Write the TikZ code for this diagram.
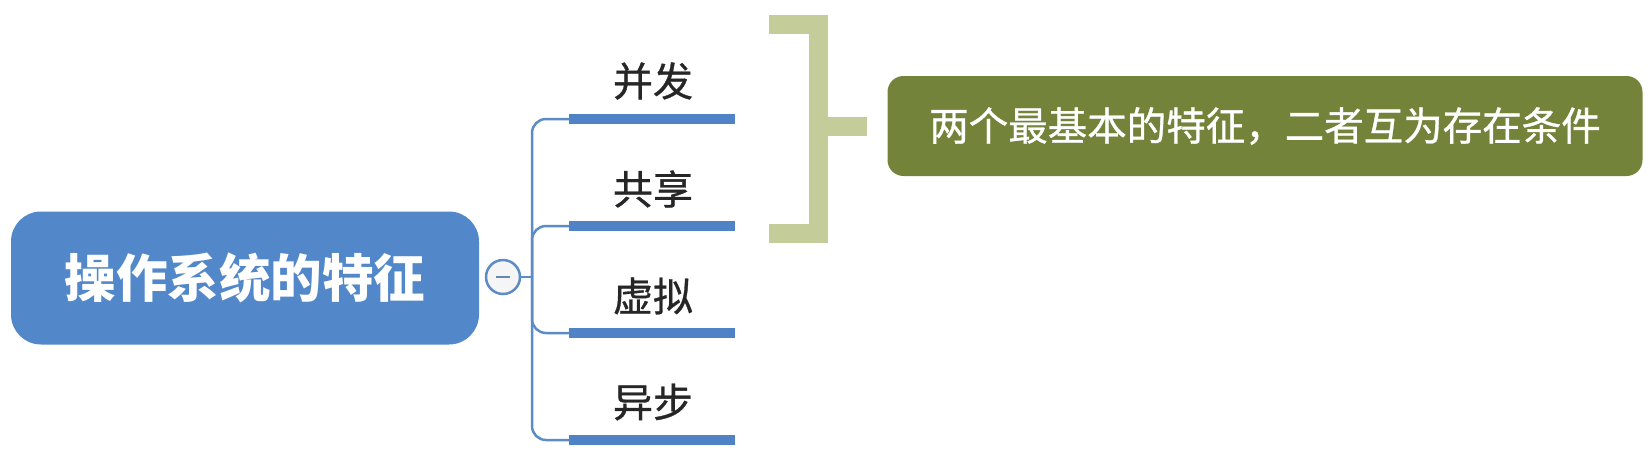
\documentclass[tikz,border=0pt]{standalone}
\usepackage{fontspec}
\setmainfont{Noto Sans CJK SC}
\newfontfamily\cjk{Noto Sans CJK SC}
\newfontfamily\cjkmed[FakeBold=0.8]{Noto Sans CJK SC}
\definecolor{rootblue}{HTML}{5288CA}
\definecolor{lineblue}{HTML}{5B8CC8}
\definecolor{ulblue}{HTML}{4F83C6}
\definecolor{olive}{HTML}{74833A}
\definecolor{brk}{HTML}{C4CD99}
\tikzset{
  rootbox/.style={fill=rootblue, rounded corners=30pt, text=white, font=\cjk\bfseries\fontsize{51.5}{56}\selectfont, minimum width=468pt, minimum height=133pt, inner sep=0pt},
  lbl/.style={text=black!85, font=\cjkmed\fontsize{40}{46}\selectfont, inner sep=0pt},
  uline/.style={draw=ulblue, line width=10pt},
  thin/.style={draw=lineblue, line width=2.5pt},
  notebox/.style={fill=olive, rounded corners=16pt, text=white, font=\cjkmed\fontsize{39.5}{44}\selectfont, minimum width=755pt, minimum height=100pt, inner sep=0pt},
  bracket/.style={draw=brk, line width=19pt},
}
\begin{document}
\begin{tikzpicture}[x=1pt,y=-1pt]
\useasboundingbox (0,0) rectangle (1651,456);
\node[rootbox] (root) at (245,278) {操作系统的特征};
\coordinate (hub) at (532,277);
\node[circle, draw=lineblue, line width=2.5pt, fill=black!4, minimum size=34pt, inner sep=0pt] (tog) at (503,277) {};
\draw[draw=lineblue!70!gray, line width=2pt] (496,277) -- (510,277);
\draw[thin] (tog.east) -- (hub);
% labels
\node[lbl] (n1) at (653,81) {并发};
\node[lbl] (n2) at (653,189) {共享};
\node[lbl] (n3) at (653,296) {虚拟};
\node[lbl] (n4) at (653,402) {异步};
% underline coordinates
\coordinate (u1w) at (569,119); \coordinate (u1e) at (735,119);
\coordinate (u2w) at (569,226); \coordinate (u2e) at (735,226);
\coordinate (u3w) at (569,333); \coordinate (u3e) at (735,333);
\coordinate (u4w) at (569,440); \coordinate (u4e) at (735,440);
\foreach \i in {1,2,3,4}{
  \draw[thin, rounded corners=14pt] (hub) |- (u\i w);
  \draw[uline] (u\i w) -- (u\i e);
}
% bracket
\coordinate (bt) at (769,24);
\coordinate (bb) at (769,233);
\coordinate (bm) at (818,126);
\draw[bracket] (bt) -- (818,24) -- (818,233) -- (bb);
\node[notebox] (note) at (1265,126) {两个最基本的特征，二者互为存在条件};
\draw[bracket, line cap=butt] (bm) -- (867,126);
\end{tikzpicture}
\end{document}
